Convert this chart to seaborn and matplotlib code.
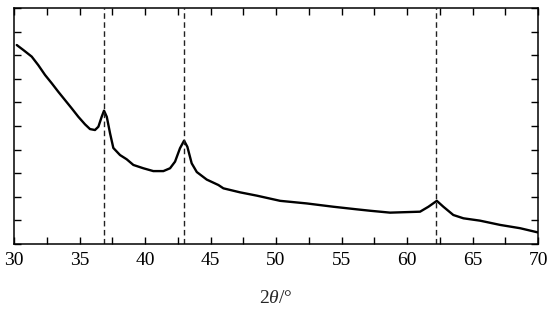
import matplotlib
matplotlib.use("Agg")
import matplotlib.pyplot as plt
import numpy as np
import pandas as pd
import seaborn as sns
from matplotlib.ticker import MultipleLocator

# XRD pattern (intensity in arbitrary units)
two_theta = [30.21, 30.71, 31.35, 31.85, 32.37, 32.88, 33.38, 33.89, 34.40, 34.91,
             35.42, 35.80, 36.18, 36.44, 36.69, 36.87, 37.08, 37.33, 37.58, 38.09,
             38.60, 39.11, 39.87, 40.63, 41.40, 41.91, 42.29, 42.67, 42.98, 43.23,
             43.56, 43.95, 44.71, 45.60, 45.98, 47.25, 48.53, 50.31, 52.34, 54.37,
             56.16, 57.18, 58.70, 60.99, 61.63, 62.27, 62.77, 63.53, 64.30, 65.57,
             67.10, 68.63, 69.77, 70.0]
intensity = [8.43, 8.22, 7.94, 7.58, 7.16, 6.81, 6.45, 6.10, 5.75, 5.39,
             5.07, 4.87, 4.83, 4.97, 5.39, 5.65, 5.39, 4.69, 4.07, 3.77,
             3.59, 3.35, 3.21, 3.09, 3.09, 3.21, 3.49, 4.06, 4.38, 4.12,
             3.42, 3.05, 2.73, 2.50, 2.36, 2.19, 2.05, 1.83, 1.72, 1.58,
             1.47, 1.41, 1.33, 1.37, 1.58, 1.83, 1.58, 1.23, 1.09, 0.99,
             0.81, 0.67, 0.52, 0.49]
peaks = [36.9, 43.0, 62.2]

df = pd.DataFrame({"two_theta": two_theta, "intensity": intensity})

sns.set_style("ticks")
plt.rcParams["font.family"] = ["Liberation Serif", "DejaVu Serif"]
plt.rcParams["mathtext.fontset"] = "custom"
plt.rcParams["mathtext.it"] = "Liberation Serif:italic"
plt.rcParams["mathtext.rm"] = "Liberation Serif"

fig = plt.figure(figsize=(5.54, 3.19), dpi=100)
ax = fig.add_axes([0.0253, 0.235, 0.946, 0.740])

sns.lineplot(data=df, x="two_theta", y="intensity", color="black", lw=1.7, ax=ax)
for p in peaks:
    ax.axvline(p, color="#222222", ls=(0, (4, 2.5)), lw=1.0)

ax.set_xlim(30, 70)
ax.set_ylim(0, 10)
ax.xaxis.set_major_locator(MultipleLocator(5))
ax.xaxis.set_minor_locator(MultipleLocator(2.5))
ax.yaxis.set_major_locator(MultipleLocator(1))
ax.set_yticklabels([])
ax.tick_params(which="both", direction="in", top=True, right=True, length=5,
               width=1, colors="black", labelsize=14, pad=6)
for s in ax.spines.values():
    s.set_linewidth(1.1)
    s.set_color("black")

ax.set_xlabel(r"2$\it{\theta}$/°", fontsize=14, labelpad=15)
ax.set_ylabel("")

fig.savefig("out.png", dpi=100)
